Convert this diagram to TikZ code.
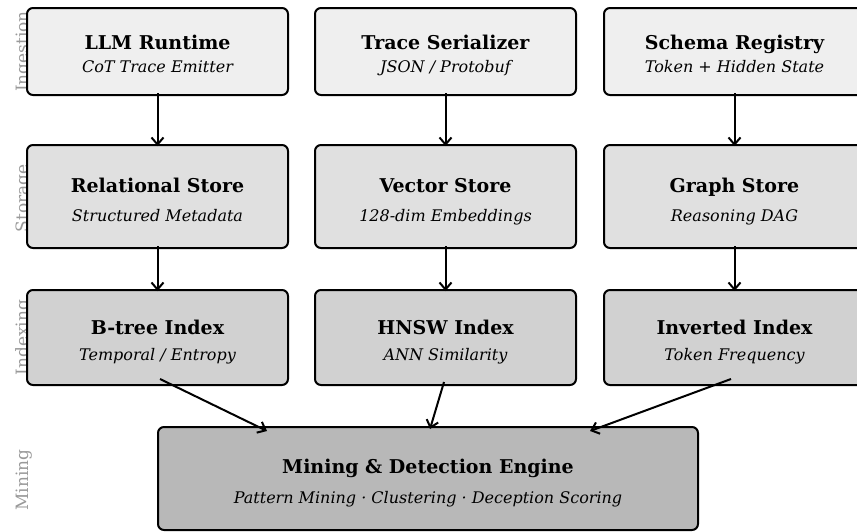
\documentclass[tikz,border=0pt]{standalone}
\usepackage{fontspec}
\setmainfont{DejaVu Serif}
\usetikzlibrary{arrows.meta,calc}
\definecolor{fillA}{HTML}{EFEFEF}
\definecolor{fillB}{HTML}{E0E0E0}
\definecolor{fillC}{HTML}{D1D1D1}
\definecolor{fillD}{HTML}{B8B8B8}
\definecolor{lanegray}{HTML}{999999}
\tikzset{
  box/.style={draw=black, line width=2pt, rounded corners=6pt, minimum width=261pt, inner sep=0pt},
  ttl/.style={anchor=base, font=\fontsize{19}{22}\selectfont\bfseries, inner sep=0pt},
  sub/.style={anchor=base, font=\fontsize{16}{19}\selectfont\itshape, inner sep=0pt},
  lane/.style={anchor=base, rotate=90, text=lanegray, font=\fontsize{17}{20}\selectfont, inner sep=0pt},
  arr/.style={draw=black, line width=2pt, -{Straight Barb[length=7pt,width=12pt,line width=2pt]}}
}
\begin{document}
\begin{tikzpicture}[x=1pt,y=-1pt]
\useasboundingbox (0,0) rectangle (857,531);
\clip (0,0) rectangle (857,531);
% lane labels
\node[lane] (lIng) at (28,51.5) {Ingestion};
\node[lane] (lSto) at (28,198.5) {Storage};
\node[lane] (lIdx) at (28,337.5) {Indexing};
\node[lane] (lMin) at (28,480) {Mining};
% row 1
\node[box, fill=fillA, minimum height=87pt] (b1) at (157.5,51.5) {};
\node[box, fill=fillA, minimum height=87pt] (b2) at (445.5,51.5) {};
\node[box, fill=fillA, minimum height=87pt] (b3) at (734.5,51.5) {};
\node[ttl] (t1) at (157.5,49.5) {LLM Runtime};
\node[sub] (s1) at (157.5,72.5) {CoT Trace Emitter};
\node[ttl] (t2) at (445.5,49.5) {Trace Serializer};
\node[sub] (s2) at (445.5,72.5) {JSON / Protobuf};
\node[ttl] (t3) at (734.5,49.5) {Schema Registry};
\node[sub] (s3) at (734.5,72.5) {Token + Hidden State};
% row 2
\node[box, fill=fillB, minimum height=103pt] (b4) at (157.5,196.5) {};
\node[box, fill=fillB, minimum height=103pt] (b5) at (445.5,196.5) {};
\node[box, fill=fillB, minimum height=103pt] (b6) at (734.5,196.5) {};
\node[ttl] (t4) at (157.5,192.5) {Relational Store};
\node[sub] (s4) at (157.5,221.5) {Structured Metadata};
\node[ttl] (t5) at (445.5,192.5) {Vector Store};
\node[sub] (s5) at (445.5,221.5) {128-dim Embeddings};
\node[ttl] (t6) at (734.5,192.5) {Graph Store};
\node[sub] (s6) at (734.5,221.5) {Reasoning DAG};
% row 3
\node[box, fill=fillC, minimum height=95pt] (b7) at (157.5,337.5) {};
\node[box, fill=fillC, minimum height=95pt] (b8) at (445.5,337.5) {};
\node[box, fill=fillC, minimum height=95pt] (b9) at (734.5,337.5) {};
\node[ttl] (t7) at (157.5,334) {B-tree Index};
\node[sub] (s7) at (157.5,360) {Temporal / Entropy};
\node[ttl] (t8) at (445.5,334) {HNSW Index};
\node[sub] (s8) at (445.5,360) {ANN Similarity};
\node[ttl] (t9) at (734.5,334) {Inverted Index};
\node[sub] (s9) at (734.5,360) {Token Frequency};
% row 4
\node[box, fill=fillD, minimum width=540pt, minimum height=103pt] (m) at (428,478.5) {};
\node[ttl] (tm) at (428,473.5) {Mining \& Detection Engine};
\node[sub] (sm) at (428,503.5) {Pattern Mining · Clustering · Deception Scoring};
% connectors
\draw[arr] ([yshift=3pt]b1.south) -- ([yshift=-2pt]b4.north);
\draw[arr] ([yshift=3pt]b2.south) -- ([yshift=-2pt]b5.north);
\draw[arr] ([yshift=3pt]b3.south) -- ([yshift=-2pt]b6.north);
\draw[arr] ([yshift=3pt]b4.south) -- ([yshift=-2pt]b7.north);
\draw[arr] ([yshift=3pt]b5.south) -- ([yshift=-2pt]b8.north);
\draw[arr] ([yshift=3pt]b6.south) -- ([yshift=-2pt]b9.north);
\coordinate (a7) at ([xshift=2.5pt,yshift=7pt]b7.south);
\coordinate (e7) at ([xshift=-161pt,yshift=-5pt]m.north);
\coordinate (a8) at ([xshift=-1.5pt,yshift=4pt]b8.south);
\coordinate (e8) at ([xshift=2pt,yshift=-3pt]m.north);
\coordinate (a9) at ([xshift=-3.5pt,yshift=7pt]b9.south);
\coordinate (e9) at ([xshift=162pt,yshift=-5pt]m.north);
\draw[arr] (a7) -- (e7);
\draw[arr] (a8) -- (e8);
\draw[arr] (a9) -- (e9);
\end{tikzpicture}
\end{document}
